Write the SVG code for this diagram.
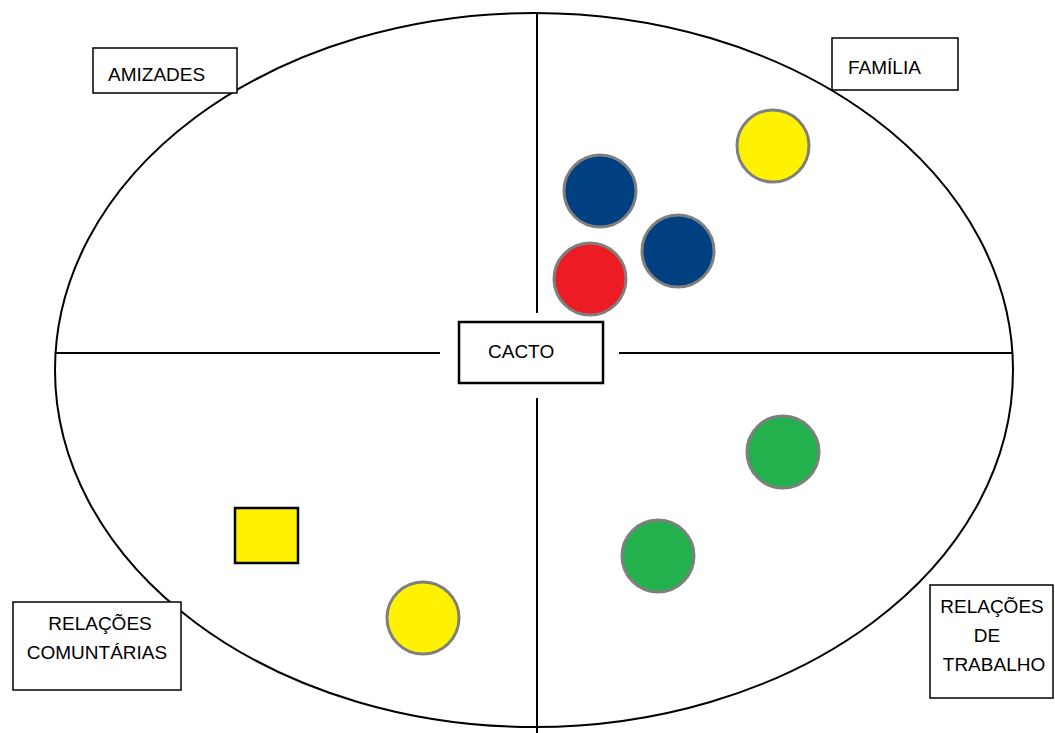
<svg xmlns="http://www.w3.org/2000/svg" width="1055" height="733" viewBox="0 0 1055 733">
<style>
.ln{stroke:#000;stroke-width:2;fill:none}
.box{fill:#fff;stroke:#000;stroke-width:1.5}
.t{font-family:"Liberation Sans",Arial,sans-serif;font-size:19px;fill:#000}
.c{stroke:#7f7f7f;stroke-width:3}
</style>
<rect width="1055" height="733" fill="#fff"/>
<g id="connectors">
<ellipse class="ln" cx="534" cy="370" rx="479" ry="357"/>
<line class="ln" x1="537" y1="14" x2="537" y2="313"/>
<line class="ln" x1="537" y1="398" x2="537" y2="733"/>
<line class="ln" x1="55" y1="353" x2="440" y2="353"/>
<line class="ln" x1="619" y1="353" x2="1013" y2="353"/>
</g>
<g id="amizades"><rect class="box" x="93" y="48" width="144" height="45"/><text class="t" x="108" y="81">AMIZADES</text></g>
<g id="familia"><rect class="box" x="832" y="38" width="126" height="52"/><text class="t" x="848" y="74">FAMÍLIA</text></g>
<g id="cacto"><rect x="459" y="322" width="144" height="61" fill="#fff" stroke="#000" stroke-width="2.5"/><text class="t" x="488" y="358">CACTO</text></g>
<g id="comunitarias"><rect class="box" x="13" y="602" width="168" height="88"/><text class="t" x="100" y="630" text-anchor="middle">RELAÇÕES</text><text class="t" x="97" y="659" text-anchor="middle">COMUNTÁRIAS</text></g>
<g id="trabalho"><rect class="box" x="930" y="585" width="123" height="113"/><text class="t" x="992" y="613" text-anchor="middle">RELAÇÕES</text><text class="t" x="987" y="642" text-anchor="middle">DE</text><text class="t" x="994" y="671" text-anchor="middle">TRABALHO</text></g>
<g id="fam-yellow"><circle class="c" cx="773" cy="146" r="36" fill="#fff200"/></g>
<g id="fam-blue1"><circle class="c" cx="600" cy="191" r="36" fill="#003f80"/></g>
<g id="fam-blue2"><circle class="c" cx="678" cy="251" r="36" fill="#003f80"/></g>
<g id="fam-red"><circle class="c" cx="590" cy="279" r="36" fill="#ed1c24"/></g>
<g id="trab-green1"><circle class="c" cx="783" cy="452" r="36" fill="#22b14c"/></g>
<g id="trab-green2"><circle class="c" cx="658" cy="556" r="36" fill="#22b14c"/></g>
<g id="com-yellow"><circle class="c" cx="423" cy="618" r="36" fill="#fff200"/></g>
<g id="com-square"><rect x="235" y="508" width="63" height="55" fill="#fff200" stroke="#000" stroke-width="2.5"/></g>
</svg>
